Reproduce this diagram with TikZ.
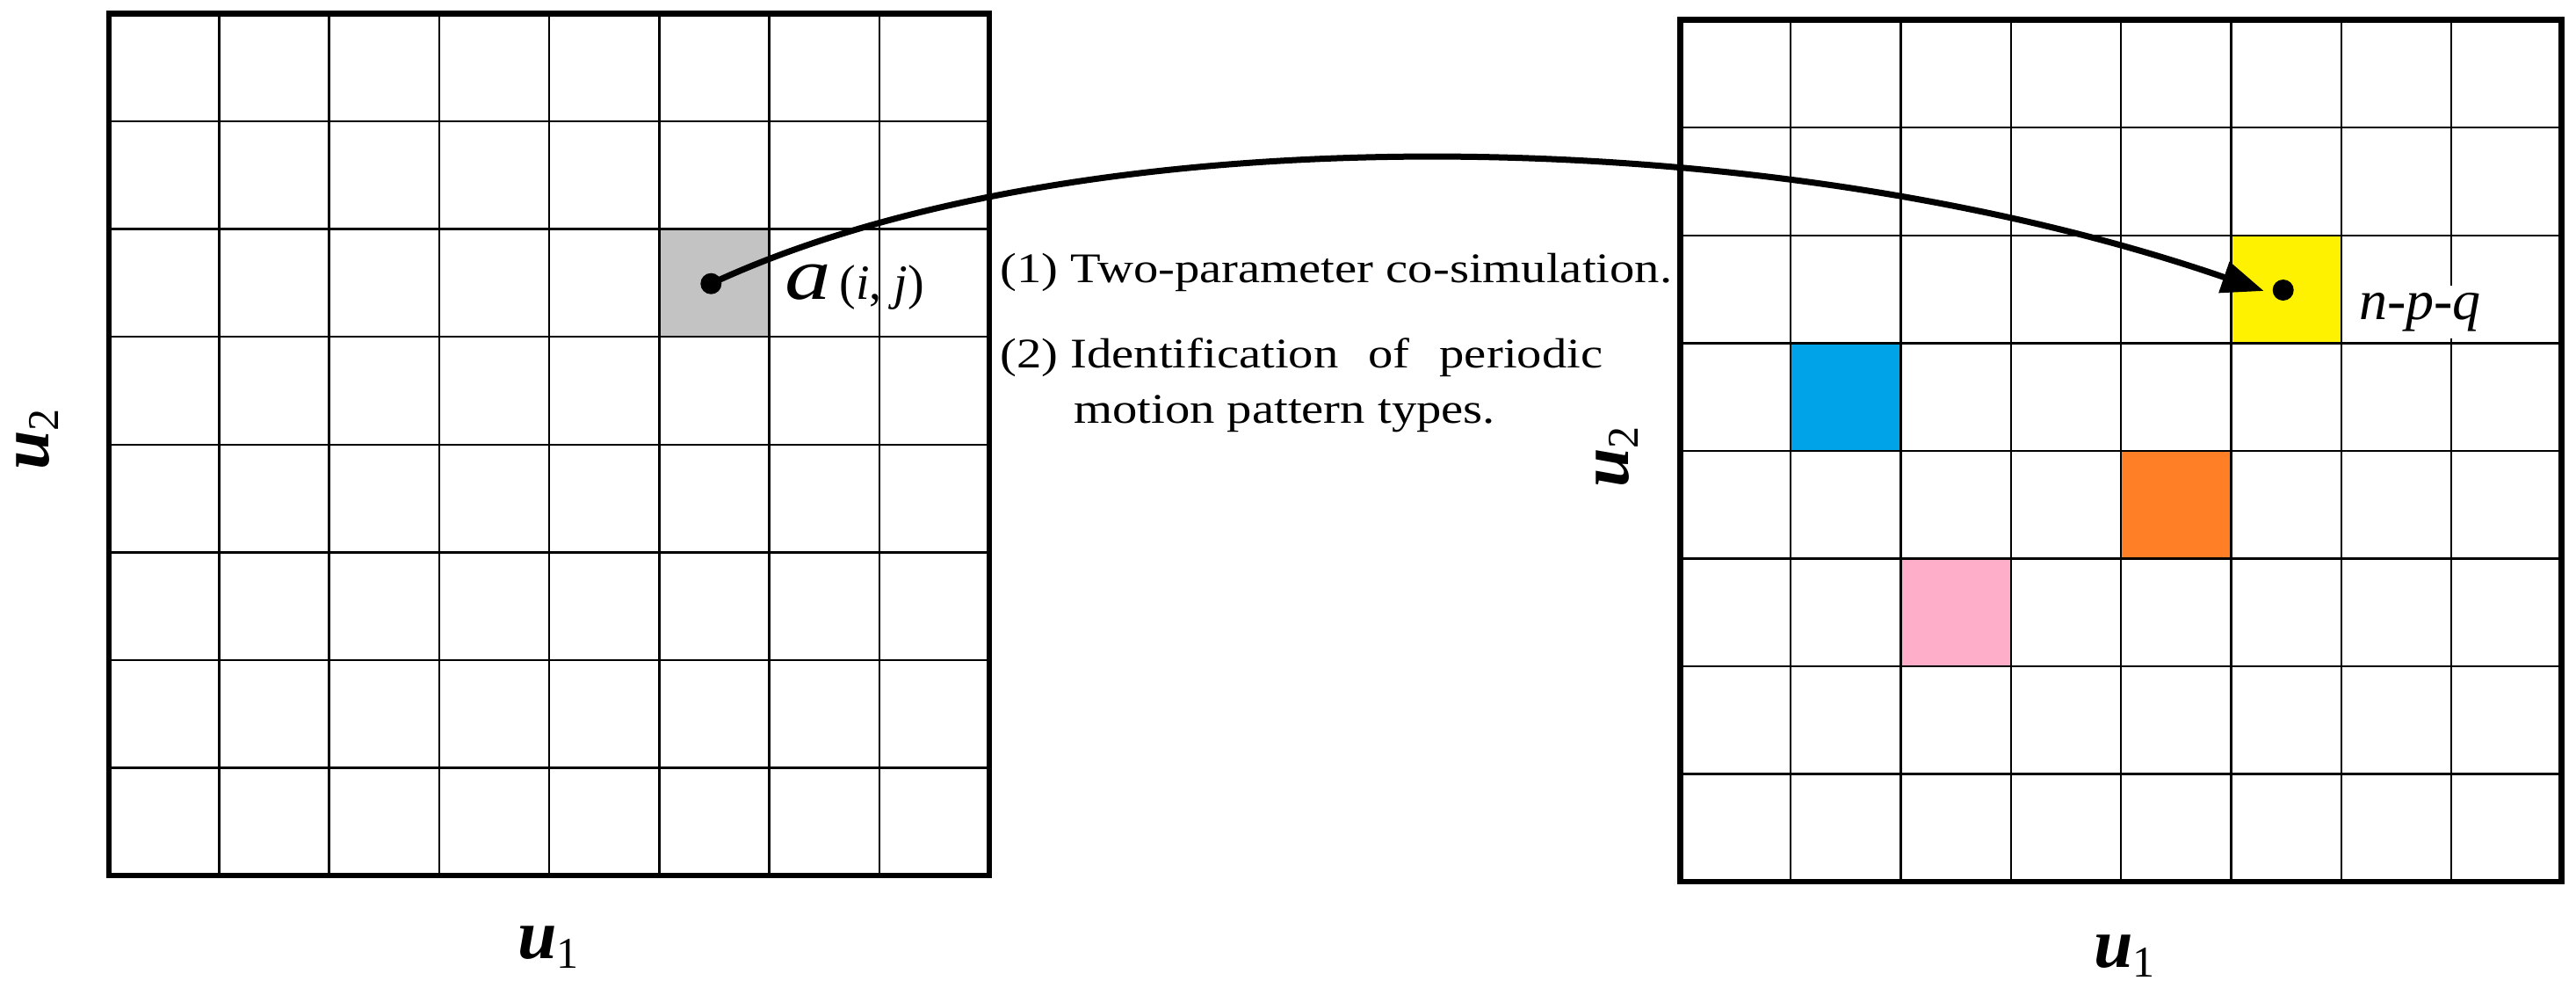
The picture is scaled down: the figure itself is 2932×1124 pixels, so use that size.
\documentclass[tikz,border=0pt]{standalone}
\usepackage{graphicx}
\usepackage{fontspec}
\setmainfont{Liberation Serif}
\newfontfamily\widefont[FakeStretch=1.18]{Liberation Serif}
\usetikzlibrary{arrows.meta}
\definecolor{cellgray}{RGB}{195,195,195}
\definecolor{cellyellow}{RGB}{255,242,0}
\definecolor{cellblue}{RGB}{0,162,232}
\definecolor{cellorange}{RGB}{255,127,39}
\definecolor{cellpink}{RGB}{255,174,201}
\tikzset{
  gridline/.style={line width=2.5pt, black},
  frame/.style={line width=6.5pt, black, line join=miter},
  dot/.style={circle, fill=black, inner sep=0pt, minimum size=24pt},
  conn/.style={line width=7pt, -{Triangle[length=48pt,width=36pt]}},
  txt/.style={anchor=base west, inner sep=0pt, font={\widefont\fontsize{48}{58}\selectfont}},
  axlab/.style={inner sep=0pt},
}
\newcommand{\ulabel}[1]{\fontsize{80}{80}\selectfont\bfseries\itshape u\raisebox{-11.7pt}{\fontsize{50}{50}\selectfont\upshape\mdseries #1}}
\begin{document}
\begin{tikzpicture}[x=1pt,y=-1pt]
\useasboundingbox (0,0) rectangle (2932,1124);
% ---------- left grid ----------
\fill[cellgray] ({124+5*125.25},{15.5+2*122.5625}) rectangle ++(125.25,122.5625);
\foreach \i in {1,...,7}{
  \draw[gridline] ({124+\i*125.25},15.5) -- ({124+\i*125.25},996);
  \draw[gridline] (124,{15.5+\i*122.5625}) -- (1126,{15.5+\i*122.5625});
}
\draw[frame] (124,15.5) rectangle (1126,996);
% ---------- right grid ----------
\fill[cellyellow] ({1912.7+5*125.35},{22.7+2*122.54}) rectangle ++(125.35,122.54);
\fill[cellblue]   ({1912.7+1*125.35},{22.7+3*122.54}) rectangle ++(125.35,122.54);
\fill[cellorange] ({1912.7+4*125.35},{22.7+4*122.54}) rectangle ++(125.35,122.54);
\fill[cellpink]   ({1912.7+2*125.35},{22.7+5*122.54}) rectangle ++(125.35,122.54);
\foreach \i in {1,...,7}{
  \draw[gridline] ({1912.7+\i*125.35},22.7) -- ({1912.7+\i*125.35},1003);
  \draw[gridline] (1912.7,{22.7+\i*122.54}) -- (2915.5,{22.7+\i*122.54});
}
\draw[frame] (1912.7,22.7) rectangle (2915.5,1003);
% ---------- labels ----------
\node[anchor=base west, inner sep=0pt] (alab) at (893,340)
  {\fontsize{84}{84}\selectfont\itshape\scalebox{1.25}[1]{a}\hspace{10pt}\fontsize{56}{56}\selectfont\upshape(\textit{i}, \textit{j})};
\node[anchor=base west, fill=white, inner sep=8pt] (npq) at (2677,363)
  {\fontsize{64}{64}\selectfont\itshape n-p-q};
\node[axlab, anchor=base] (u1L) at (624,1090) {\ulabel{1}};
\node[axlab, anchor=base] (u1R) at (2418,1100) {\ulabel{1}};
\node[axlab, anchor=base, rotate=90] (u2L) at (55,500) {\smash{\ulabel{2}}};
\node[axlab, anchor=base, rotate=90] (u2R) at (1853,520) {\ulabel{2}};
\node[txt] (t1) at (1138,321.7) {(1) Two-parameter co-simulation.};
\node[txt] (t2) at (1138,418) {\makebox[686pt][l]{(2) Identification\hfill of\hfill periodic}};
\node[txt] (t3) at (1222,481.7) {motion pattern types.};
% ---------- connector ----------
\node[dot] (src) at (809.3,322.7) {};
\node[dot] (dst) at (2598.7,330) {};
\coordinate (tip) at (2576.7,331);
\draw[conn] (src.center) .. controls (1229,127) and (2008,135) .. (tip);
\end{tikzpicture}
\end{document}
